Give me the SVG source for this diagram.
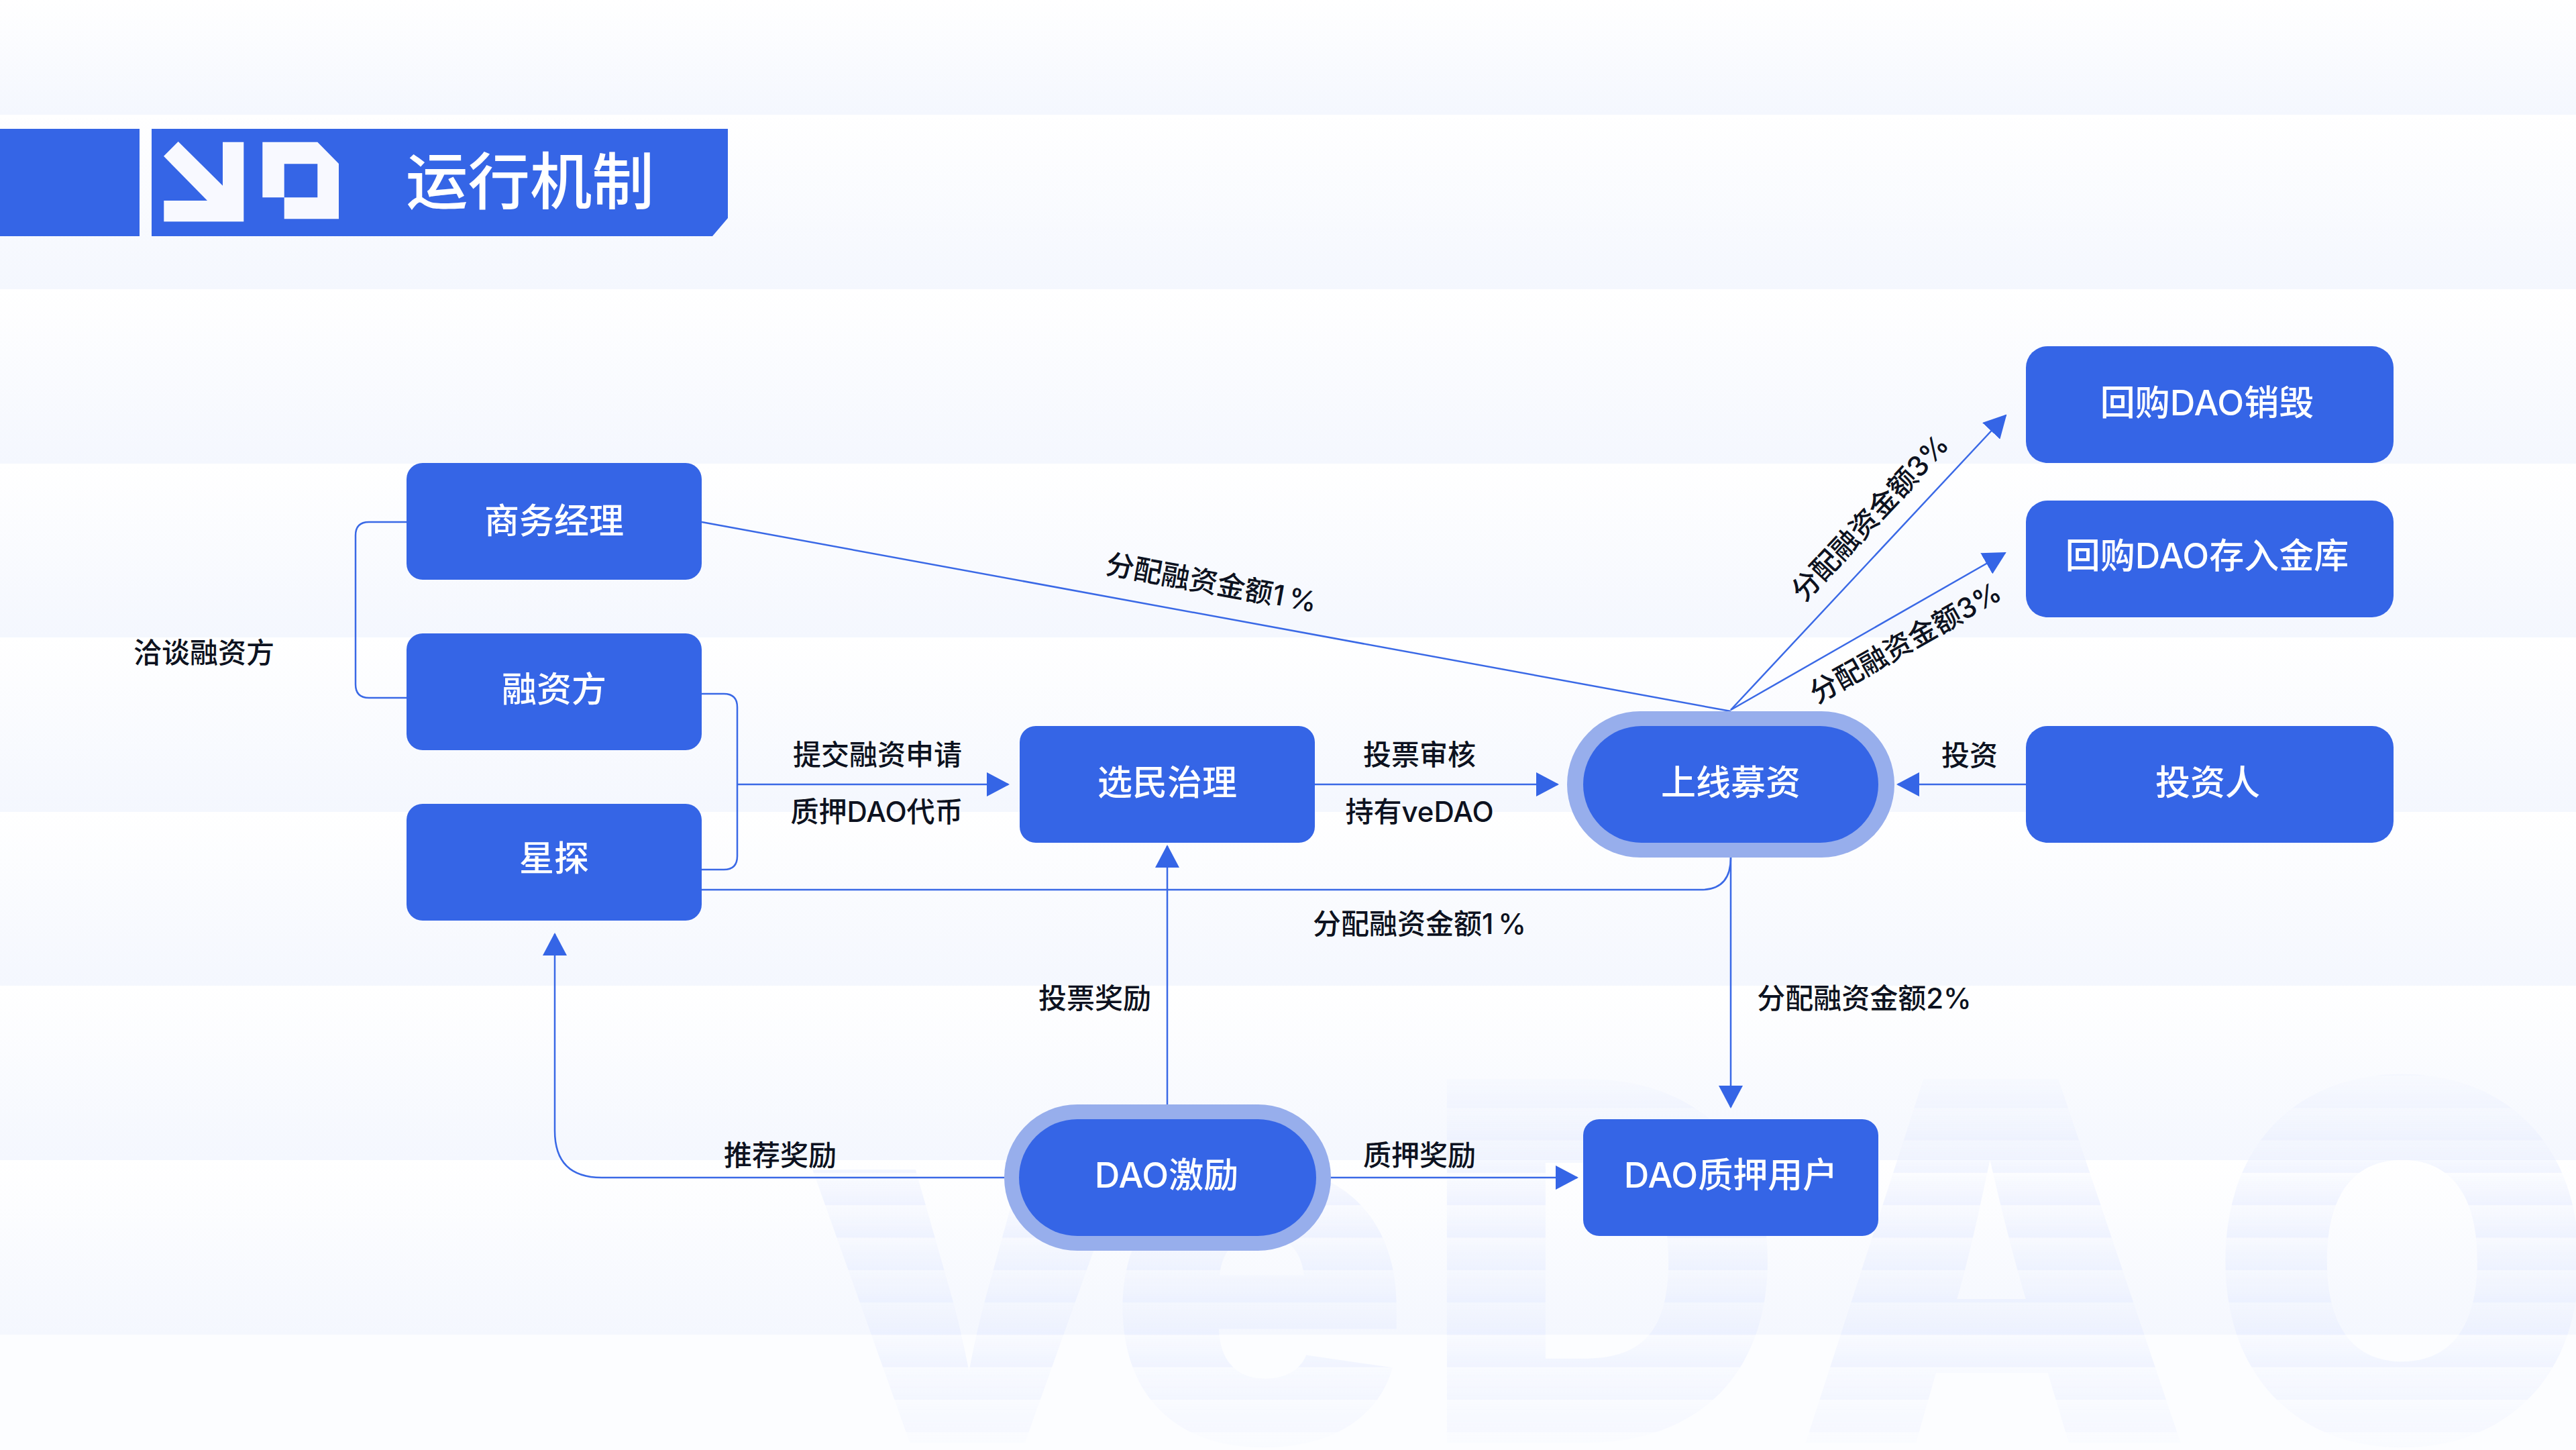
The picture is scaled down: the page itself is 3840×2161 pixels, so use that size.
<svg xmlns="http://www.w3.org/2000/svg" width="3840" height="2161" viewBox="0 0 3840 2161">
<defs>
<linearGradient id="band" x1="0" y1="0" x2="0" y2="1"><stop offset="0" stop-color="#ffffff"/><stop offset="1" stop-color="#f4f7fe"/></linearGradient>
<linearGradient id="wmBand" x1="0" y1="0" x2="0" y2="1"><stop offset="0" stop-color="#e9efff" stop-opacity="0.15"/><stop offset="1" stop-color="#e6ecff" stop-opacity="0.6"/></linearGradient>
<pattern id="wmPat" patternUnits="userSpaceOnUse" x="0" y="1603" width="3840" height="48.300"><rect width="3840" height="48.300" fill="url(#wmBand)"/></pattern>
<linearGradient id="wmFade" gradientUnits="userSpaceOnUse" x1="0" y1="1590" x2="0" y2="2161"><stop offset="0" stop-color="#fff" stop-opacity="0.45"/><stop offset="0.3" stop-color="#fff"/><stop offset="0.75" stop-color="#fff"/><stop offset="1" stop-color="#fff" stop-opacity="0.35"/></linearGradient>
<mask id="wmMask" maskUnits="userSpaceOnUse" x="0" y="1500" width="3840" height="661"><rect y="1500" width="3840" height="661" fill="url(#wmFade)"/></mask>
<marker id="ah" markerUnits="userSpaceOnUse" markerWidth="34" markerHeight="36" refX="32" refY="18" orient="auto"><path d="M0 0L34 18L0 36Z" fill="#3565e6"/></marker>
</defs>
<style>
.n{fill:#3565e6}
.halo{fill:#97aeec}
.t{font-family:Inter,"Noto Sans CJK SC",sans-serif;font-weight:500;font-size:52px;fill:#fff;text-anchor:middle;dominant-baseline:central}
.l{font-family:Inter,"Noto Sans CJK SC",sans-serif;font-weight:500;font-size:42px;fill:#0d1220;text-anchor:middle;dominant-baseline:central}
.c{fill:none;stroke:#3a69e6;stroke-width:2.500}
.a{marker-end:url(#ah)}
</style>
<g id="background">
<rect width="3840" height="2161" fill="#fff"/>
<rect y="0" width="3840" height="171" fill="url(#band)"/>
<rect y="171" width="3840" height="260" fill="url(#band)"/>
<rect y="431" width="3840" height="260" fill="url(#band)"/>
<rect y="691" width="3840" height="259" fill="url(#band)"/>
<rect y="950" width="3840" height="260" fill="url(#band)"/>
<rect y="1210" width="3840" height="259" fill="url(#band)"/>
<rect y="1469" width="3840" height="260" fill="url(#band)"/>
<rect y="1729" width="3840" height="260" fill="url(#band)"/>
<rect y="1989" width="3840" height="172" fill="#fcfdff"/>
<g mask="url(#wmMask)"><text x="1207 1651 2122 2675 3292" y="2150" font-family="Inter,sans-serif" font-weight="900" font-size="745" fill="url(#wmPat)">veDAO</text></g>
</g>
<g id="header">
<rect x="0" y="192" width="208" height="160" class="n"/>
<path d="M226 192H1085V325L1062 352H226Z" class="n"/>
<path d="M265.700 211L244 232.700L309 299H244.300V330.300H363.300V211.700H332V276.700Z" fill="#f8f9ff"/>
<path d="M391.300 211.700H473.300L505 244V326.300H423.700V294.300H473.300V244.300H423.700V294.300H391.300Z" fill="#f8f9ff"/>
<text x="790" y="270" font-family="Inter,&quot;Noto Sans CJK SC&quot;,sans-serif" font-weight="500" font-size="92.500" fill="#fff" text-anchor="middle" dominant-baseline="central">运行机制</text>
</g>
<g id="connectors">
<path class="c" d="M1046 778L2580 1060"/>
<path class="c" d="M606 778H550Q530 778 530 798V1020Q530 1040 550 1040H606"/>
<path class="c" d="M1046 1034H1079Q1099 1034 1099 1054V1276Q1099 1296 1079 1296H1046"/>
<path class="c a" d="M1099 1169H1503"/>
<path class="c a" d="M1960 1169H2322"/>
<path class="c a" d="M3020 1169H2829"/>
<path class="c" d="M1046 1326H2536Q2580 1326 2580 1278"/>
<path class="c a" d="M2580 1278V1650"/>
<path class="c a" d="M2580 1058L2990 619"/>
<path class="c a" d="M2580 1058L2989 824"/>
<path class="c a" d="M1740 1646V1261"/>
<path class="c a" d="M1497 1755H897Q827 1755 827 1685V1392"/>
<path class="c a" d="M1982 1755H2351"/>
</g>
<g id="node-bm"><rect x="606" y="690" width="440" height="174" rx="24" class="n"/><text x="826" y="776" class="t">商务经理</text></g>
<g id="node-fin"><rect x="606" y="944" width="440" height="174" rx="24" class="n"/><text x="826" y="1027" class="t">融资方</text></g>
<g id="node-scout"><rect x="606" y="1198" width="440" height="174" rx="24" class="n"/><text x="826" y="1279" class="t">星探</text></g>
<g id="node-voter"><rect x="1520" y="1082" width="440" height="174" rx="24" class="n"/><text x="1740" y="1166" class="t">选民治理</text></g>
<g id="node-launch"><rect x="2336" y="1060" width="488" height="218" rx="109" class="halo"/><rect x="2360" y="1082" width="440" height="174" rx="87" class="n"/><text x="2580" y="1166" class="t">上线募资</text></g>
<g id="node-burn"><rect x="3020" y="516" width="548" height="174" rx="32" class="n"/><text x="3290" y="600" class="t">回购DAO销毁</text></g>
<g id="node-treasury"><rect x="3020" y="746" width="548" height="174" rx="32" class="n"/><text x="3290" y="828" class="t">回购DAO存入金库</text></g>
<g id="node-investor"><rect x="3020" y="1082" width="548" height="174" rx="32" class="n"/><text x="3291" y="1166" class="t">投资人</text></g>
<g id="node-incentive"><rect x="1497" y="1646" width="487" height="218" rx="109" class="halo"/><rect x="1519" y="1668" width="443" height="174" rx="87" class="n"/><text x="1739" y="1751" class="t">DAO激励</text></g>
<g id="node-stakers"><rect x="2360" y="1668" width="440" height="174" rx="24" class="n"/><text x="2580" y="1751" class="t">DAO质押用户</text></g>
<g id="labels">
<text x="304" y="972" class="l">洽谈融资方</text>
<text x="1308" y="1124" class="l">提交融资申请</text>
<text x="1307" y="1209" class="l">质押DAO代币</text>
<text x="2116" y="1124" class="l">投票审核</text>
<text x="2116" y="1209" class="l">持有veDAO</text>
<text x="2936" y="1125" class="l">投资</text>
<text x="2116" y="1376" class="l">分配融资金额1<tspan dx="7">%</tspan></text>
<text x="2779" y="1487" class="l">分配融资金额2%</text>
<text x="1632" y="1487" class="l">投票奖励</text>
<text x="1163" y="1721" class="l">推荐奖励</text>
<text x="2116" y="1721" class="l">质押奖励</text>
<text class="l" transform="translate(1806 868) rotate(10.400)">分配融资金额1<tspan dx="7">%</tspan></text>
<text class="l" transform="translate(2787 771) rotate(-47)">分配融资金额3%</text>
<text class="l" transform="translate(2840 957) rotate(-29.500)">分配融资金额3%</text>
</g>
</svg>
